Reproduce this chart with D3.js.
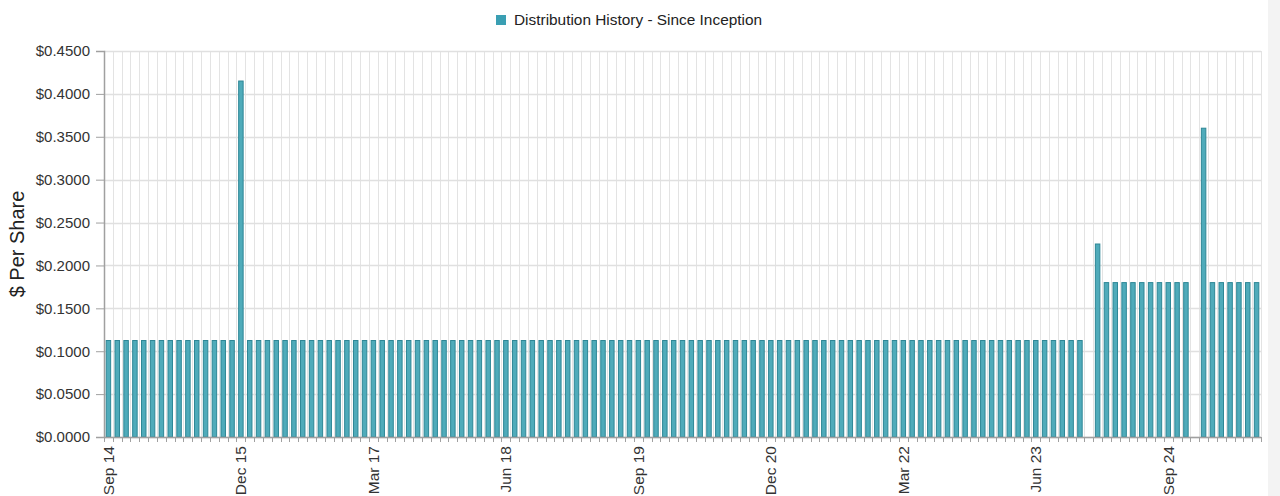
<!DOCTYPE html>
<html>
<head>
<meta charset="utf-8">
<script src="https://cdn.jsdelivr.net/npm/d3@7/dist/d3.min.js"></script>
<style>
  html, body { margin: 0; padding: 0; background: #fff; }
  svg { display: block; }
  text { font-family: "Liberation Sans", Arial, sans-serif; }
</style>
</head>
<body>
<svg id="chart" width="1280" height="496"></svg>
<script>
const categories = [
  "Sep 14","Oct 14","Nov 14","Dec 14",
  "Jan 15","Feb 15","Mar 15","Apr 15","May 15","Jun 15","Jul 15","Aug 15","Sep 15","Oct 15","Nov 15","Dec 15",
  "Jan 16","Feb 16","Mar 16","Apr 16","May 16","Jun 16","Jul 16","Aug 16","Sep 16","Oct 16","Nov 16","Dec 16",
  "Jan 17","Feb 17","Mar 17","Apr 17","May 17","Jun 17","Jul 17","Aug 17","Sep 17","Oct 17","Nov 17","Dec 17",
  "Jan 18","Feb 18","Mar 18","Apr 18","May 18","Jun 18","Jul 18","Aug 18","Sep 18","Oct 18","Nov 18","Dec 18",
  "Jan 19","Feb 19","Mar 19","Apr 19","May 19","Jun 19","Jul 19","Aug 19","Sep 19","Oct 19","Nov 19","Dec 19",
  "Jan 20","Feb 20","Mar 20","Apr 20","May 20","Jun 20","Jul 20","Aug 20","Sep 20","Oct 20","Nov 20","Dec 20",
  "Jan 21","Feb 21","Mar 21","Apr 21","May 21","Jun 21","Jul 21","Aug 21","Sep 21","Oct 21","Nov 21","Dec 21",
  "Jan 22","Feb 22","Mar 22","Apr 22","May 22","Jun 22","Jul 22","Aug 22","Sep 22","Oct 22","Nov 22","Dec 22",
  "Jan 23","Feb 23","Mar 23","Apr 23","May 23","Jun 23","Jul 23","Aug 23","Sep 23","Oct 23","Nov 23","Dec 23",
  "Jan 24","Feb 24","Mar 24","Apr 24","May 24","Jun 24","Jul 24","Aug 24","Sep 24","Oct 24","Nov 24","Dec 24",
  "Jan 25","Feb 25","Mar 25","Apr 25","May 25","Jun 25","Jul 25"
];

const distributions = [
  0.1125,0.1125,0.1125,0.1125,
  0.1125,0.1125,0.1125,0.1125,0.1125,0.1125,0.1125,0.1125,0.1125,0.1125,0.1125,0.415,
  0.1125,0.1125,0.1125,0.1125,0.1125,0.1125,0.1125,0.1125,0.1125,0.1125,0.1125,0.1125,
  0.1125,0.1125,0.1125,0.1125,0.1125,0.1125,0.1125,0.1125,0.1125,0.1125,0.1125,0.1125,
  0.1125,0.1125,0.1125,0.1125,0.1125,0.1125,0.1125,0.1125,0.1125,0.1125,0.1125,0.1125,
  0.1125,0.1125,0.1125,0.1125,0.1125,0.1125,0.1125,0.1125,0.1125,0.1125,0.1125,0.1125,
  0.1125,0.1125,0.1125,0.1125,0.1125,0.1125,0.1125,0.1125,0.1125,0.1125,0.1125,0.1125,
  0.1125,0.1125,0.1125,0.1125,0.1125,0.1125,0.1125,0.1125,0.1125,0.1125,0.1125,0.1125,
  0.1125,0.1125,0.1125,0.1125,0.1125,0.1125,0.1125,0.1125,0.1125,0.1125,0.1125,0.1125,
  0.1125,0.1125,0.1125,0.1125,0.1125,0.1125,0.1125,0.1125,0.1125,0.1125,0.1125,null,
  0.225,0.18,0.18,0.18,0.18,0.18,0.18,0.18,0.18,0.18,0.18,null,
  0.36,0.18,0.18,0.18,0.18,0.18,0.18
];

const xTickLabels = ["Sep 14","Dec 15","Mar 17","Jun 18","Sep 19","Dec 20","Mar 22","Jun 23","Sep 24"];
const yTickValues = [0, 0.05, 0.1, 0.15, 0.2, 0.25, 0.3, 0.35, 0.4, 0.45];
const seriesName = "Distribution History - Since Inception";
const yAxisTitle = "$ Per Share";

const data = categories.map((c, i) => ({ cat: c, value: distributions[i] }));

const svg = d3.select("#chart");
const W = 1280, H = 496;
const plot = { left: 104, right: 1261, top: 51, bottom: 437 };

// right-edge gray strip
svg.append("rect").attr("x", 1268).attr("y", 0).attr("width", 12).attr("height", H).attr("fill", "#f3f3f3");

const x = d3.scaleBand()
  .domain(categories)
  .range([plot.left, plot.right])
  .paddingInner(0.38)
  .paddingOuter(0.19);

const y = d3.scaleLinear().domain([0, 0.45]).range([plot.bottom, plot.top]);

const step = x.step();
const boundaries = d3.range(categories.length + 1).map(i => plot.left + i * step);

// vertical gridlines at category boundaries
svg.append("g").selectAll("line").data(boundaries.slice(1)).join("line")
  .attr("x1", d => Math.round(d) + 0.5).attr("x2", d => Math.round(d) + 0.5)
  .attr("y1", plot.top).attr("y2", plot.bottom)
  .attr("stroke", "#e3e3e3").attr("stroke-width", 1);

// horizontal gridlines
svg.append("g").selectAll("line").data(yTickValues).join("line")
  .attr("x1", plot.left).attr("x2", plot.right)
  .attr("y1", d => Math.round(y(d)) + 0.5).attr("y2", d => Math.round(y(d)) + 0.5)
  .attr("stroke", "#e0e0e0").attr("stroke-width", 1.5);

// bars
svg.append("g").selectAll("rect").data(data.filter(d => d.value != null)).join("rect")
  .attr("x", d => x(d.cat) + 0.5)
  .attr("y", d => y(d.value))
  .attr("width", x.bandwidth() - 1)
  .attr("height", d => y(0) - y(d.value))
  .attr("fill", "#4fabba")
  .attr("stroke", "#2e8796")
  .attr("stroke-width", 1);

// y axis
const yAxis = d3.axisLeft(y).tickValues(yTickValues).tickSize(8).tickPadding(6)
  .tickFormat(d => "$" + d3.format(".4f")(d));
const gy = svg.append("g").attr("transform", `translate(${plot.left},0)`).call(yAxis);
gy.select(".domain").attr("stroke", "#a0a0a0").attr("stroke-width", 1.5);
gy.selectAll(".tick line").attr("stroke", "#a0a0a0");
gy.selectAll(".tick text").attr("fill", "#333").style("font-size", "15px")
  .style("font-family", "'Liberation Sans', Arial, sans-serif");

// x axis baseline and boundary ticks
svg.append("line").attr("x1", plot.left).attr("x2", plot.right)
  .attr("y1", plot.bottom + 0.5).attr("y2", plot.bottom + 0.5)
  .attr("stroke", "#a0a0a0").attr("stroke-width", 1.5);
svg.append("g").selectAll("line").data(boundaries).join("line")
  .attr("x1", d => Math.round(d) + 0.5).attr("x2", d => Math.round(d) + 0.5)
  .attr("y1", plot.bottom).attr("y2", plot.bottom + 5)
  .attr("stroke", "#a0a0a0").attr("stroke-width", 1);

// x labels
const xAxis = d3.axisBottom(x).tickValues(xTickLabels).tickSize(0).tickPadding(0);
const gx = svg.append("g").attr("transform", `translate(0,${plot.bottom})`).call(xAxis);
gx.select(".domain").remove();
gx.selectAll(".tick text")
  .attr("transform", "rotate(-90)")
  .attr("x", -9).attr("y", 0).attr("dy", "0.35em")
  .attr("text-anchor", "end")
  .attr("fill", "#333").style("font-size", "15.5px")
  .style("font-family", "'Liberation Sans', Arial, sans-serif");

// y axis title
svg.append("text")
  .attr("transform", `translate(24,${(plot.top + plot.bottom) / 2}) rotate(-90)`)
  .attr("text-anchor", "middle")
  .attr("fill", "#222").style("font-size", "20px")
  .text(yAxisTitle);

// legend
const legend = svg.append("g").attr("transform", "translate(496,14)");
legend.append("rect").attr("x", 0).attr("y", 1).attr("width", 10).attr("height", 10).attr("fill", "#3a9fb3");
legend.append("text").attr("x", 18).attr("y", 6).attr("dy", "0.35em")
  .attr("fill", "#222").style("font-size", "15.4px").text(seriesName);
</script>
</body>
</html>
